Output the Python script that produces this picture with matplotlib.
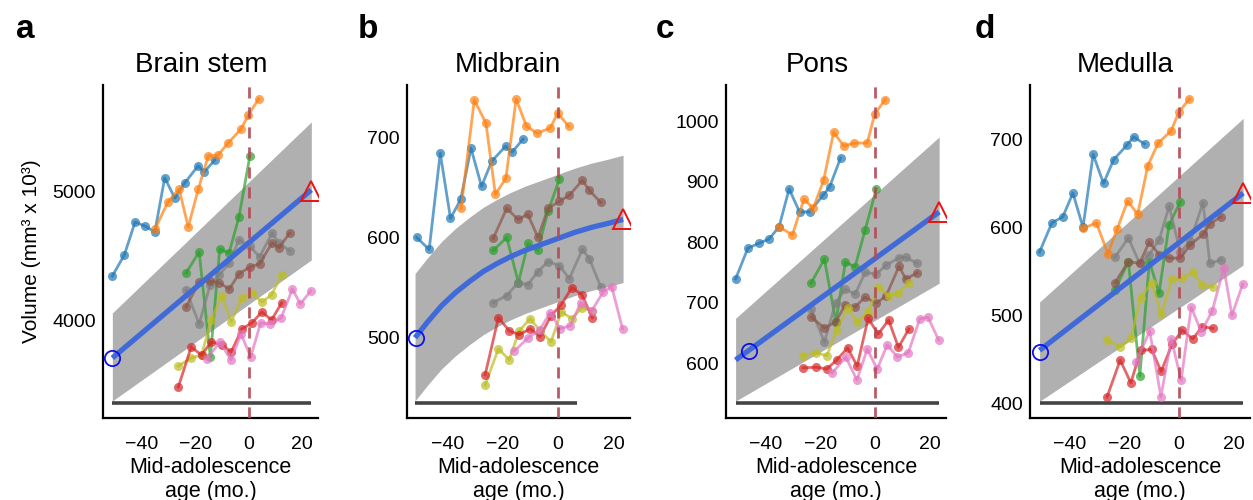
import matplotlib
matplotlib.use("Agg")
import matplotlib.pyplot as plt

plt.rcParams['font.family'] = ['Liberation Sans', 'DejaVu Sans']

# ---- subject ages (months relative to mid-adolescence) ----
age_blue = [-51, -46.5, -42.5, -38.8, -35.1, -31.4, -27.6, -23.9, -18.9, -16.6, -12.6]
age_orange = [-35, -30.2, -26, -22.6, -18.8, -15.1, -11.4, -7.6, -2.8, -0.1, 3.8]
age_green = [-23.4, -18.5, -14.3, -10.8, -7.3, -3.6, 0.5]
age_gray = [-23.4, -18.5, -14.4, -10.9, -7.2, -3.6, 0.5, 4.1, 8.8, 11.3, 15.4]
age_brown = age_gray
age_yellow = [-26.3, -21.5, -17.6, -14, -10, -6.5, -2.5, 1.2, 5, 8.6, 12.4]
age_red = age_yellow
age_pink = [-15.7, -10.7, -6.6, -2.8, 0.8, 4.5, 8.2, 12.2, 16.4, 19.4, 23.3]

# ---- volumes per region ----
brainstem = {
    'blue': [4349, 4512, 4767, 4736, 4690, 5109, 4953, 5070, 5202, 5155, 5248],
    'orange': [4713, 4922, 5023, 4729, 5023, 5279, 5287, 5380, 5488, 5597, 5721],
    'green': [4372, 4535, 3721, 4558, 4527, 4806, 5279],
    'gray': [4240, 3977, 4279, 4357, 4450, 4628, 4581, 4496, 4682, 4605, 4543],
    'brown': [4109, 4302, 4310, 4295, 4248, 4364, 4419, 4442, 4605, 4566, 4682],
    'yellow': [3651, 3713, 3736, 4008, 4194, 3992, 4178, 4217, 4147, 4202, 4357],
    'red': [3488, 3798, 3736, 3837, 3814, 3760, 3938, 3984, 4070, 4008, 4140],
    'pink': [3705, 3837, 3698, 3899, 3721, 3984, 3977, 4023, 4248, 4132, 4233],
}
midbrain = {
    'blue': [600, 588, 684, 619, 638, 689, 651, 676, 691, 685, 698],
    'orange': [629, 737, 714, 643, 659, 738, 711, 704, 709, 724, 711],
    'green': [587, 600, 555, 594, 587, 626, 658],
    'gray': [535, 542, 555, 553, 566, 576, 572, 559, 588, 579, 551],
    'brown': [599, 629, 618, 623, 600, 629, 636, 642, 657, 647, 635],
    'yellow': [453, 489, 478, 507, 519, 507, 496, 526, 519, 530, 527],
    'red': [463, 520, 507, 503, 509, 501, 522, 533, 550, 543, 520],
    'pink': [487, 500, 508, 525, 509, 512, 535, 527, 546, 551, 509],
}
pons = {
    'blue': [739, 790, 798, 805, 825, 888, 850, 850, 878, 891, 939],
    'orange': [825, 812, 871, 856, 902, 982, 959, 964, 964, 1012, 1036],
    'green': [732, 772, 668, 767, 759, 820, 888],
    'gray': [689, 635, 699, 722, 714, 750, 747, 762, 774, 775, 765],
    'brown': [676, 658, 668, 696, 693, 709, 699, 711, 760, 739, 749],
    'yellow': [612, 617, 612, 655, 691, 668, 684, 726, 711, 716, 732],
    'red': [592, 593, 590, 605, 625, 595, 674, 648, 671, 626, 656],
    'pink': [583, 610, 572, 623, 590, 630, 610, 617, 673, 676, 638],
}
medulla = {
    'blue': [572, 605, 612, 639, 600, 683, 650, 677, 694, 703, 695],
    'orange': [599, 605, 570, 598, 630, 615, 670, 696, 710, 731, 746],
    'green': [529, 561, 431, 561, 525, 603, 629],
    'gray': [566, 588, 559, 569, 586, 624, 572, 584, 628, 559, 563],
    'brown': [537, 561, 559, 583, 569, 565, 565, 580, 592, 604, 612],
    'yellow': [472, 464, 474, 520, 537, 501, 541, 542, 549, 534, 532],
    'red': [407, 449, 423, 460, 461, 436, 467, 483, 473, 487, 485],
    'pink': [447, 482, 407, 473, 426, 509, 481, 505, 554, 500, 535],
}

ages = {'blue': age_blue, 'orange': age_orange, 'green': age_green, 'gray': age_gray,
        'brown': age_brown, 'yellow': age_yellow, 'red': age_red, 'pink': age_pink}
colors = {'blue': '#1f77b4', 'orange': '#ff7f0e', 'green': '#2ca02c', 'gray': '#7f7f7f',
          'brown': '#8c564b', 'yellow': '#bcbd22', 'red': '#d62728', 'pink': '#e377c2'}
draw_order = ['blue', 'orange', 'green', 'gray', 'brown', 'yellow', 'red', 'pink']

# ---- population trajectories and prediction bands ----
fit_age_lin = [-51, 23.5]
fit_brainstem = [3713, 5016]
band_brainstem_lo = [3380, 4473]
band_brainstem_hi = [4062, 5543]

fit_age_mid = [-51.6, -47, -42, -37, -32, -27, -22, -17, -12, -6, 0, 6, 12, 18, 23.5]
fit_midbrain = [500, 516, 532, 545, 556, 566, 574, 581, 587, 593, 599, 605, 610, 614, 618]
band_midbrain_lo = [437, 453, 469, 482, 493, 503, 511, 518, 524, 530, 536, 542, 547, 551, 555]
band_midbrain_hi = [564, 580, 596, 609, 620, 630, 638, 645, 651, 657, 663, 669, 674, 678, 682]

fit_pons = [605, 850]
band_pons_lo = [537, 732]
band_pons_hi = [674, 974]

fit_medulla = [460, 639]
band_medulla_lo = [402, 557]
band_medulla_hi = [515, 724]

# start (circle) and end (triangle) markers
circle_pts = [(-51, 3713), (-51.2, 500), (-46, 620), (-51, 458)]
triangle_pts = [(23.5, 5010), (23.5, 618), (23.5, 850), (23.5, 639)]

# baseline bars under each panel: (x0, x1, y)
baselines = [(-51, 23.5, 3364), (-51.5, 7, 435), (-51, 23.5, 534), (-51, 23.5, 400)]

titles = ['Brain stem', 'Midbrain', 'Pons', 'Medulla']
letters = ['a', 'b', 'c', 'd']
ylims = [(3248, 5829), (420, 752), (509, 1060), (383, 762)]
yticks = [[4000, 5000], [500, 600, 700], [600, 700, 800, 900, 1000], [400, 500, 600, 700]]
xticks = [-40, -20, 0, 20]

panels = [
    (brainstem, fit_age_lin, fit_brainstem, fit_age_lin, band_brainstem_lo, band_brainstem_hi),
    (midbrain, fit_age_mid, fit_midbrain, fit_age_mid, band_midbrain_lo, band_midbrain_hi),
    (pons, fit_age_lin, fit_pons, fit_age_lin, band_pons_lo, band_pons_hi),
    (medulla, fit_age_lin, fit_medulla, fit_age_lin, band_medulla_lo, band_medulla_hi),
]

W, H = 1253, 500
fig = plt.figure(figsize=(W / 100, H / 100), dpi=100)

# axes boxes in pixels: left, right; shared top/bottom
ax_px = [(103, 318), (407, 630), (726, 946), (1030, 1250)]
top_px, bot_px = 85, 418
title_x = [201, 508, 817, 1125]
letter_x = [25, 368, 665, 985]

for i, (data, fx, fy, bx, blo, bhi) in enumerate(panels):
    l, r = ax_px[i]
    ax = fig.add_axes([l / W, 1 - bot_px / H, (r - l) / W, (bot_px - top_px) / H])
    ax.fill_between(bx, blo, bhi, color='#b0b0b0', lw=0, zorder=1)
    x0, x1, yb = baselines[i]
    ax.plot([x0, x1], [yb, yb], color='#444444', lw=2.6, zorder=1.5, solid_capstyle='butt')
    for key in draw_order:
        ax.plot(ages[key], data[key], '-o', color=colors[key], alpha=0.7, lw=2.0,
                ms=6.5, mew=0, zorder=2)
    ax.plot(fx, fy, color='#3f6ad8', lw=3.8, zorder=3, solid_capstyle='butt')
    ax.axvline(0, color='#b34a55', lw=2, ls=(0, (4, 3.2)), alpha=0.9, zorder=4)
    cx, cy = circle_pts[i]
    ax.plot(cx, cy, 'o', ms=11, mfc='none', mec='#1010ee', mew=1.3, zorder=5)
    tx, ty = triangle_pts[i]
    ax.plot(tx, ty, '^', ms=14, mfc='none', mec='#ee1111', mew=1.4, zorder=5)

    ax.set_xlim(-54.5, 26)
    ax.set_ylim(*ylims[i])
    ax.set_xticks(xticks)
    ax.set_xticklabels(['\u221240', '\u221220', '0', '20'])
    ax.set_yticks(yticks[i])
    ax.tick_params(axis='x', length=0, labelsize=14, pad=13)
    ax.tick_params(axis='y', length=0, labelsize=14, pad=5)
    for s in ['top', 'right']:
        ax.spines[s].set_visible(False)
    for s in ['left', 'bottom']:
        ax.spines[s].set_linewidth(1.6)
        ax.spines[s].set_color('black')
    ax.set_xlabel('Mid-adolescence\nage (mo.)', fontsize=15.5, labelpad=3, linespacing=1.15)
    fig.text(title_x[i] / W, 1 - 65 / H, titles[i], fontsize=20, ha='center', va='center')
    fig.text(letter_x[i] / W, 1 - 30 / H, letters[i], fontsize=24, fontweight='bold',
             ha='center', va='center')
    if i == 0:
        ax.set_ylabel('Volume (mm\u00b3 x 10\u00b3)', fontsize=15, labelpad=8)

fig.savefig('out.png', dpi=100)
